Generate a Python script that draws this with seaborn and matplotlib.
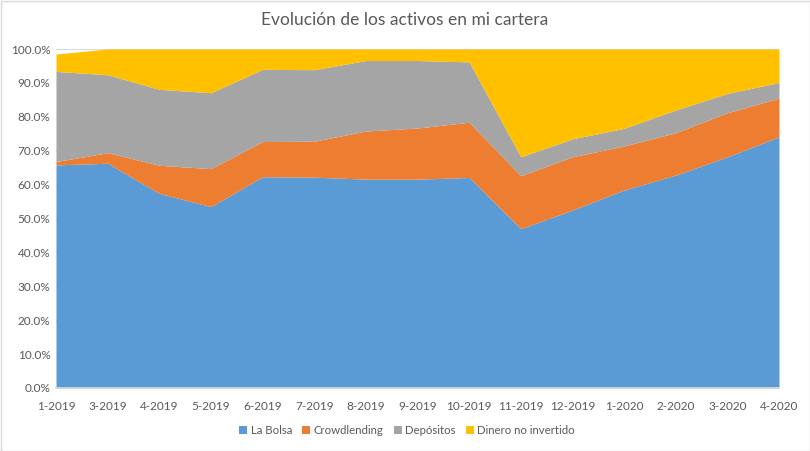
import matplotlib
matplotlib.use("Agg")
import matplotlib.pyplot as plt
import seaborn as sns
import numpy as np
from matplotlib.patches import Rectangle
from matplotlib.ticker import PercentFormatter

categories = ["1-2019", "3-2019", "4-2019", "5-2019", "6-2019", "7-2019", "8-2019",
              "9-2019", "10-2019", "11-2019", "12-2019", "1-2020", "2-2020", "3-2020", "4-2020"]
la_bolsa = [65.8, 66.3, 57.4, 53.5, 62.3, 62.2, 61.6, 61.6, 62.1, 47.0, 52.5, 58.4, 62.8, 68.2, 74.1]
crowdlending = [1.0, 3.1, 8.3, 11.2, 10.4, 10.6, 14.2, 15.1, 16.3, 15.6, 15.7, 13.0, 12.5, 13.0, 11.4]
depositos = [26.6, 23.0, 22.4, 22.4, 21.3, 21.1, 20.8, 19.9, 17.8, 5.6, 5.3, 5.2, 6.7, 5.7, 4.6]
dinero = [5.1, 7.6, 11.9, 12.9, 6.0, 6.1, 3.4, 3.4, 3.8, 31.8, 26.5, 23.4, 18.0, 13.1, 9.9]
series_names = ["La Bolsa", "Crowdlending", "Depósitos", "Dinero no invertido"]
colors = ["#5B9BD5", "#ED7D31", "#A5A5A5", "#FFC000"]

sns.set_theme(style="white")
plt.rcParams['font.family'] = ['Lato', 'DejaVu Sans']

fig = plt.figure(figsize=(8.1, 4.51), dpi=100)
ax = fig.add_axes([56/810, 1-388/451, 723/810, 339/451])

x = np.arange(len(categories))
ax.set_ylim(0, 100)
ax.set_xlim(0, len(categories)-1)
ax.yaxis.set_major_locator(plt.MultipleLocator(10))
ax.grid(axis='y', color='#D9D9D9', linewidth=0.8)
ax.set_axisbelow(True)
ax.stackplot(x, la_bolsa, crowdlending, depositos, dinero, labels=series_names,
             colors=sns.color_palette(colors), linewidth=0, zorder=2)

ax.yaxis.set_major_formatter(PercentFormatter(decimals=1))
ax.set_xticks(x)
ax.set_xticklabels(categories)
ax.tick_params(axis='both', labelsize=8.5, colors='#595959', length=0)
ax.tick_params(axis='x', pad=9)
ax.tick_params(axis='y', pad=4)
for s in ['top', 'right', 'left']:
    ax.spines[s].set_visible(False)
ax.spines['bottom'].set_color('#D9D9D9')

fig.text(405/810, 1-20/451, "Evolución de los activos en mi cartera", fontsize=12.5,
         color='#595959', ha='center', va='center')

handles, labels = ax.get_legend_handles_labels()
leg = fig.legend(handles, labels, loc='center', bbox_to_anchor=(407/810, 1-430/451), ncol=4,
                 frameon=False, fontsize=8.2, handlelength=0.7, handleheight=0.7,
                 handletextpad=0.3, columnspacing=0.9)
for t in leg.get_texts():
    t.set_color('#595959')

fig.patches.append(Rectangle((0.5/810, 0.5/451), 1-1/810, 1-1/451, transform=fig.transFigure,
                             fill=False, edgecolor='#D9D9D9', linewidth=1))

fig.savefig("out.png", dpi=100)
